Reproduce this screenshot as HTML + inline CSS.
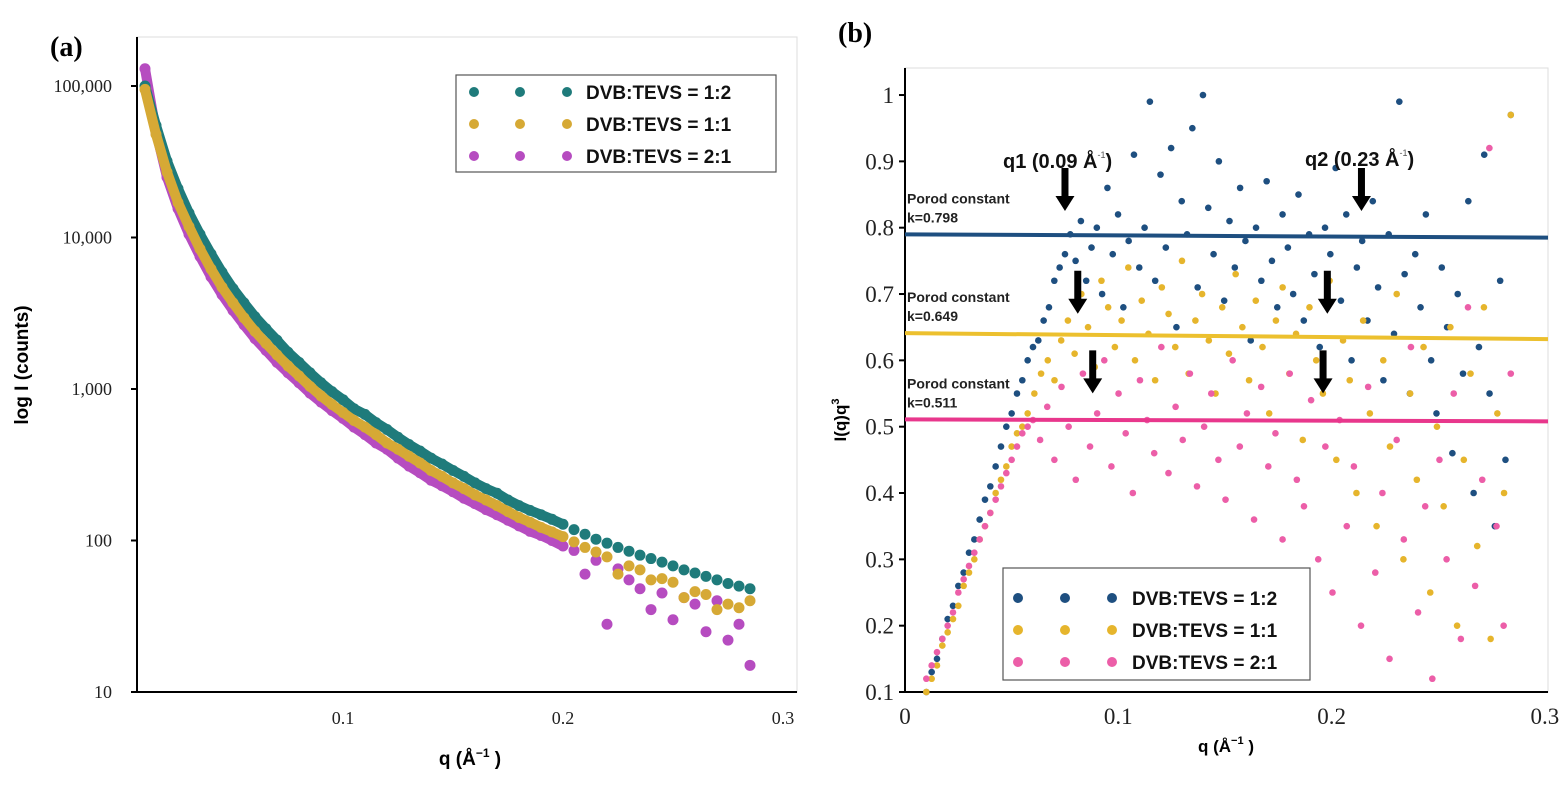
<!DOCTYPE html>
<html><head><meta charset="utf-8"><style>
body{margin:0;background:#fff;}
svg{display:block;}
.serif{font-family:"Liberation Serif",serif;}
.sans{font-family:"Liberation Sans",sans-serif;}
</style></head><body>
<svg id="fig" width="1561" height="788" viewBox="0 0 1561 788" xmlns="http://www.w3.org/2000/svg">
<rect width="1561" height="788" fill="#fff"/>
<g id="pa">
  <text x="50" y="56" class="serif" font-size="28" font-weight="bold">(a)</text>
  <rect x="137" y="37" width="660" height="655" fill="none" stroke="#ddd" stroke-width="1"/>
  <line x1="137" y1="37" x2="137" y2="692" stroke="#000" stroke-width="2"/>
  <line x1="137" y1="692" x2="797" y2="692" stroke="#000" stroke-width="2"/>
  <text transform="translate(28,365) rotate(-90)" text-anchor="middle" class="sans" font-size="19" font-weight="bold">log I (counts)</text>
  <text x="470" y="765" text-anchor="middle" class="sans" font-size="19" font-weight="bold">q (Å<tspan dy="-8" font-size="12">−1</tspan><tspan dy="8"> )</tspan></text>
  <g id="pa-ticks"></g><g id="pa-pts"></g>
  <g>
    <rect x="456" y="75" width="320" height="97" fill="#fff" stroke="#555" stroke-width="1.2"/>
    <g id="pa-leg"></g>
  </g>
</g>
<g id="pb">
  <text x="838" y="42" class="serif" font-size="28" font-weight="bold">(b)</text>
  <rect x="905" y="68" width="643" height="624" fill="none" stroke="#ddd" stroke-width="1"/>
  <line x1="905" y1="68" x2="905" y2="692" stroke="#000" stroke-width="2"/>
  <line x1="905" y1="692" x2="1548" y2="692" stroke="#000" stroke-width="2"/>
  <text transform="translate(846,420) rotate(-90)" text-anchor="middle" class="sans" font-size="17" font-weight="bold">I(q)q<tspan dy="-7" font-size="11">3</tspan></text>
  <text x="1226" y="752" text-anchor="middle" class="sans" font-size="17" font-weight="bold">q (Å<tspan dy="-8" font-size="11">−1</tspan><tspan dy="8"> )</tspan></text>
  <g id="pb-ticks"></g><g id="pb-pts"></g><g id="pb-lines"></g><g id="pb-ann"></g>
  <g>
    <rect x="1003" y="568" width="307" height="112" fill="#fff" stroke="#555" stroke-width="1.2"/>
    <g id="pb-leg"></g>
  </g>
</g>
</svg>
<script>
const NS="http://www.w3.org/2000/svg";
// ---- Panel A data ----
const qA=[0.010,0.015,0.020,0.025,0.030,0.035,0.040,0.045,0.050,0.055,0.060,0.065,0.070,0.075,0.080,0.085,0.090,0.095,0.100,0.105,0.110,0.115,0.120,0.125,0.130,0.135,0.140,0.145,0.150,0.155,0.160,0.165,0.170,0.175,0.180,0.185,0.190,0.195,0.200,0.205,0.210,0.215,0.220,0.225,0.230,0.235,0.240,0.245,0.250,0.255,0.260,0.265,0.270,0.275,0.280,0.285];
const tealA=[100000,55000,32000,21000,14500,10500,7800,5900,4600,3700,3000,2500,2100,1750,1500,1280,1100,960,850,740,680,600,540,480,430,390,350,320,290,265,240,220,205,185,170,158,148,138,128,118,110,102,96,90,85,80,76,72,68,64,61,58,55,52,50,48];
const goldA=[95000,48000,27000,17000,11800,8400,6200,4700,3700,2950,2400,2000,1680,1420,1220,1040,900,790,700,620,560,500,440,400,360,325,290,265,240,220,200,185,170,155,142,132,122,114,106,98,90,84,78,60,68,64,55,56,53,42,46,44,35,38,36,40];
const magA=[130000,50000,25000,15500,10500,7500,5500,4200,3300,2650,2150,1800,1500,1280,1100,940,820,720,640,560,500,440,400,350,310,280,250,230,210,190,175,160,148,136,125,115,108,100,92,86,60,74,28,65,55,48,35,45,30,42,38,25,40,22,28,15];
const yTicksA=[10,100,1000,10000,100000];
const yTickLabA=["10","100","1,000","10,000","100,000"];
const xTicksA=[0.1,0.2,0.3];
const legA=["DVB:TEVS = 1:2","DVB:TEVS = 1:1","DVB:TEVS = 2:1"];
// ---- Panel B data ----
const blueB=[0.10,0.13,0.15,0.18,0.21,0.23,0.26,0.28,0.31,0.33,0.36,0.39,0.41,0.44,0.47,0.50,0.52,0.55,0.57,0.60,0.62,0.63,0.66,0.68,0.72,0.74,0.76,0.79,0.75,0.81,0.72,0.77,0.80,0.70,0.86,0.76,0.82,0.68,0.78,0.91,0.74,0.80,0.99,0.72,0.88,0.77,0.92,0.65,0.84,0.79,0.95,0.71,1.00,0.83,0.76,0.90,0.69,0.81,0.74,0.86,0.78,0.63,0.80,0.72,0.87,0.75,0.68,0.82,0.77,0.70,0.85,0.66,0.79,0.73,0.62,0.80,0.76,0.89,0.69,0.82,0.60,0.74,0.78,0.66,0.84,0.71,0.57,0.79,0.64,0.99,0.73,0.55,0.76,0.68,0.82,0.60,0.52,0.74,0.65,0.46,0.70,0.58,0.84,0.40,0.62,0.91,0.55,0.35,0.72,0.45,0.97];
const goldB=[0.10,0.12,0.14,0.17,0.19,0.21,0.23,0.26,0.28,0.30,0.33,0.35,0.37,0.40,0.42,0.44,0.47,0.49,0.50,0.52,0.55,0.58,0.60,0.57,0.63,0.66,0.61,0.70,0.65,0.59,0.72,0.68,0.62,0.66,0.74,0.60,0.69,0.64,0.57,0.71,0.67,0.62,0.75,0.58,0.66,0.70,0.63,0.55,0.68,0.61,0.73,0.65,0.57,0.69,0.62,0.52,0.66,0.71,0.58,0.64,0.48,0.68,0.60,0.55,0.72,0.45,0.63,0.57,0.40,0.66,0.52,0.35,0.60,0.47,0.70,0.30,0.55,0.42,0.62,0.25,0.50,0.38,0.65,0.20,0.45,0.58,0.32,0.68,0.18,0.52,0.40,0.97];
const pinkB=[0.12,0.14,0.16,0.18,0.20,0.22,0.25,0.27,0.29,0.31,0.33,0.35,0.37,0.39,0.41,0.43,0.45,0.47,0.49,0.50,0.51,0.48,0.53,0.45,0.56,0.50,0.42,0.58,0.47,0.52,0.60,0.44,0.55,0.49,0.40,0.57,0.51,0.46,0.62,0.43,0.53,0.48,0.58,0.41,0.50,0.55,0.45,0.39,0.60,0.47,0.52,0.36,0.56,0.44,0.49,0.33,0.58,0.42,0.38,0.54,0.30,0.47,0.25,0.51,0.35,0.44,0.20,0.56,0.28,0.40,0.15,0.48,0.33,0.62,0.22,0.38,0.12,0.45,0.30,0.55,0.18,0.68,0.26,0.42,0.92,0.35,0.20,0.58];
const risePts=[27,20,21];
const porodK=[0.79,0.641,0.511];
const porodKEnd=[0.785,0.632,0.508];
const porodLab=["k=0.798","k=0.649","k=0.511"];
const yTicksB=[0.1,0.2,0.3,0.4,0.5,0.6,0.7,0.8,0.9,1];
const xTicksB=[0,0.1,0.2,0.3];
const arrowQ=[[0.075,0.214],[0.081,0.198],[0.088,0.196]];
const arrowTop=[0.89,0.735,0.615];

const xA=q=>123+2200*q;
const yA=v=>692-151.5*Math.log10(v/10);
const xB=q=>905+2133*q;
const yB=v=>692-663.3*(v-0.1);

function el(tag,attrs,parent,text){const e=document.createElementNS(NS,tag);for(const k in attrs)e.setAttribute(k,attrs[k]);if(text!==undefined)e.textContent=text;parent.appendChild(e);return e;}

const ta=document.getElementById('pa-ticks');
yTicksA.forEach((v,i)=>{
  const t=el('text',{x:112,y:yA(v)+6,'text-anchor':'end','class':'serif','font-size':18,fill:'#222'},ta,yTickLabA[i]);
  
  
  el('line',{x1:131,x2:137,y1:yA(v),y2:yA(v),stroke:'#000','stroke-width':2},ta);
});
xTicksA.forEach(v=>{
  const t=el('text',{x:xA(v),y:724,'text-anchor':'middle','class':'serif','font-size':18,fill:'#222'},ta,String(v));
  
  
});
const colA=['#1f7b7b','#d6a935','#b64cc0'];
const serA=[tealA,goldA,magA];
const pa=document.getElementById('pa-pts');
[2,0,1].forEach(s=>{
  const g=el('g',{},pa);
  
  
  let d='';
  serA[s].forEach((v,i)=>{ if(i<qA.length && qA[i]<=0.2){ d+=(d?'L':'M')+xA(qA[i]).toFixed(1)+','+yA(v).toFixed(1); }});
  const pl=el('path',{d:d,fill:'none',stroke:colA[s],'stroke-width':10,'stroke-linecap':'round','stroke-linejoin':'round'},g);
  
  
  serA[s].forEach((v,i)=>{ if(i<qA.length){
    const c=el('circle',{cx:xA(qA[i]),cy:yA(v),r:5.5,fill:colA[s]},g);
    
    
  }});
});
const lga=document.getElementById('pa-leg');
legA.forEach((t,i)=>{
  const y=92+i*32;
  [474,520,567].forEach(x=>el('circle',{cx:x,cy:y,r:5,fill:colA[i]},lga));
  const tx=el('text',{x:586,y:y+7,'class':'sans','font-size':19,'font-weight':'bold',fill:'#111'},lga,t);
  
  
});

const tb=document.getElementById('pb-ticks');
yTicksB.forEach(v=>{
  const t=el('text',{x:894,y:yB(v)+8,'text-anchor':'end','class':'serif','font-size':23,fill:'#222'},tb,String(v));
  
  
  el('line',{x1:899,x2:905,y1:yB(v),y2:yB(v),stroke:'#000','stroke-width':2},tb);
});
xTicksB.forEach(v=>{
  const t=el('text',{x:xB(v),y:724,'text-anchor':'middle','class':'serif','font-size':23,fill:'#222'},tb,String(v));
  
  
});
const colB=['#1e4f80','#e6b52c','#ec5ea8'];
const serB=[blueB,goldB,pinkB];
const pb=document.getElementById('pb-pts');
[0,1,2].forEach(s=>{
  const g=el('g',{},pb);
  
  
  const vals=serB[s], n=vals.length, r=risePts[s];
  const qStart=0.010, qRiseEnd=0.010+(r-1)*0.0025, qEnd=0.284;
  vals.forEach((v,i)=>{
    const q=i<r?qStart+i*0.0025:qRiseEnd+(i-r+1)*(qEnd-qRiseEnd)/(n-r);
    const c=el('circle',{cx:xB(q),cy:yB(v),r:3.3,fill:colB[s]},g);
    
    
  });
});
const lb=document.getElementById('pb-lines');
const lineCol=['#1e4f80','#ecc02e','#e8378c'];
porodK.forEach((k,i)=>{
  const l=el('line',{x1:905,x2:1548,y1:yB(k),y2:yB(porodKEnd[i]),stroke:lineCol[i],'stroke-width':4},lb);
  
  
  const t1=el('text',{x:907,y:yB(k)-31,'class':'sans','font-size':14,'font-weight':'bold',fill:'#222'},lb,'Porod constant');
  
  
  const t2=el('text',{x:907,y:yB(k)-12,'class':'sans','font-size':14,'font-weight':'bold',fill:'#222'},lb,porodLab[i]);
  
  
});
const an=document.getElementById('pb-ann');
arrowQ.forEach((pair,i)=>pair.forEach(q=>{
  const x=xB(q), y0=yB(arrowTop[i]);
  const p=el('path',{d:`M${x-3.5},${y0} h7 v${28} h6 l-9.5,15 l-9.5,-15 h6 z`,fill:'#000'},an);
  
  
}));
const q1=el('text',{x:1003,y:168,'class':'sans','font-size':20,'font-weight':'bold',fill:'#111'},an);
q1.innerHTML='q1 (0.09 Å<tspan dy="-10" font-size="9" font-weight="normal" fill="#555">-1</tspan><tspan dy="10">)</tspan>';


const q2=el('text',{x:1305,y:166,'class':'sans','font-size':20,'font-weight':'bold',fill:'#111'},an);
q2.innerHTML='q2 (0.23 Å<tspan dy="-10" font-size="9" font-weight="normal" fill="#555">-1</tspan><tspan dy="10">)</tspan>';


const lgb=document.getElementById('pb-leg');
legA.forEach((t,i)=>{
  const y=598+i*32;
  [1018,1065,1112].forEach(x=>el('circle',{cx:x,cy:y,r:5,fill:colB[i]},lgb));
  const tx=el('text',{x:1132,y:y+7,'class':'sans','font-size':19,'font-weight':'bold',fill:'#111'},lgb,t);
  
  
});
</script>
</body></html>
